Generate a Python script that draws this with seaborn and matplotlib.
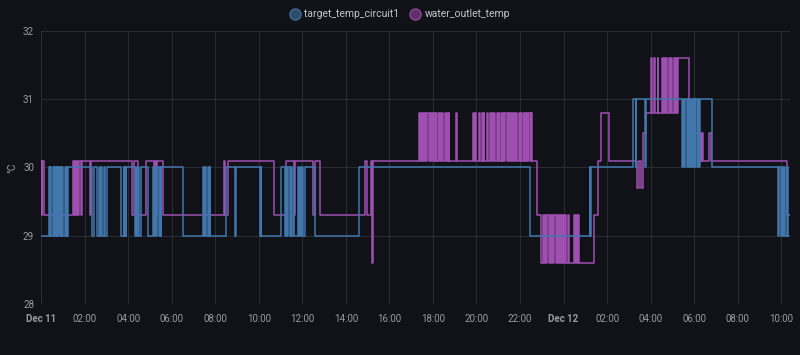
import numpy as np
import pandas as pd
import seaborn as sns
import matplotlib
matplotlib.use("Agg")
import matplotlib.pyplot as plt
from matplotlib.lines import Line2D

# minutes since Dec 11 00:00 -> value (step changes)
target_min = [
    0, 22, 24, 26, 28, 33, 35, 37, 39, 41, 43, 45, 46, 50, 52, 54, 56, 58, 60,
    67, 69, 71, 73, 75, 141, 145, 155, 160, 162, 166, 168, 173, 175, 182,
    221, 228, 230, 232, 234, 235, 258, 261, 264, 267, 270, 276, 296,
    309, 312, 315, 318, 321, 324, 327, 330, 332, 391,
    447, 450, 453, 456, 459, 462, 465, 466, 509, 534, 536, 603, 605, 607,
    661, 673, 676, 679, 682, 685, 688, 690, 695, 696, 708, 711, 714, 717,
    720, 723, 727, 756, 877, 1347, 1512, 1514, 1516,
    1632, 1640, 1641, 1665, 1666, 1767, 1770, 1773, 1776, 1779, 1782, 1785,
    1788, 1791, 1794, 1797, 1799, 1802, 1803, 1809, 1810, 1814, 1815, 1848,
    2032, 2035, 2038, 2041, 2044, 2047, 2050, 2056, 2058, 2062,
]
target_val = [
    29, 30, 29, 30, 29, 30, 29, 30, 29, 30, 29, 30, 29, 30, 29, 30, 29, 30, 29,
    30, 29, 30, 29, 30, 29, 30, 29, 30, 29, 30, 29, 30, 29, 30,
    29, 30, 29, 30, 29, 30, 29, 30, 29, 30, 29, 30, 29,
    30, 29, 30, 29, 30, 29, 30, 29, 30, 29,
    30, 29, 30, 29, 30, 29, 30, 29, 30, 29, 30, 29, 30, 29,
    30, 29, 30, 29, 30, 29, 30, 29, 30, 29, 30, 29, 30, 29,
    30, 29, 30, 29, 30, 29, 30, 29, 30,
    31, 30, 31, 30, 31, 30, 31, 30, 31, 30, 31, 30,
    31, 30, 31, 30, 31, 30, 31, 30, 31, 30, 31, 30,
    29, 30, 29, 30, 29, 30, 29, 30, 29, 29,
]

outlet_min = [
    0, 2, 4, 7, 88, 91, 94, 97, 100, 103, 106, 109, 112, 134, 137,
    251, 255, 267, 289, 311, 313, 317, 319, 337,
    504, 506, 515, 641, 676, 697, 701, 750, 754, 768,
    892, 899, 910, 913, 915,
    1041, 1044, 1047, 1050, 1053, 1056, 1059, 1062, 1065, 1068, 1071, 1074,
    1077, 1080, 1083, 1086, 1088, 1089, 1093, 1096, 1099, 1102, 1106, 1109,
    1112, 1115, 1118, 1121, 1124, 1125, 1143, 1145,
    1191, 1194, 1197, 1199, 1208, 1211, 1214, 1217, 1220, 1222, 1229, 1231,
    1237, 1240, 1243, 1246, 1248, 1250, 1257, 1260, 1263, 1266, 1269, 1271,
    1274, 1277, 1280, 1283, 1286, 1289, 1292, 1295, 1298, 1301, 1304, 1307,
    1310, 1312, 1317, 1320, 1322, 1324, 1328, 1331, 1334, 1337, 1340, 1343,
    1346, 1349, 1351, 1353, 1366,
    1379, 1382, 1385, 1388, 1391, 1393, 1400, 1403, 1406, 1409, 1412, 1415,
    1418, 1421, 1424, 1427, 1430, 1433, 1436, 1439, 1442, 1445, 1448, 1451,
    1454, 1469, 1472, 1475, 1478, 1481, 1483,
    1524, 1535, 1542, 1565, 1642, 1647, 1653, 1658, 1660, 1666,
    1681, 1683, 1690, 1692, 1699, 1701, 1711, 1714, 1717, 1720, 1722, 1724,
    1731, 1734, 1737, 1740, 1743, 1746, 1749, 1752, 1755,
    1786, 1814, 1816, 1819, 1821, 1823, 1841, 1846, 2055, 2064,
]
outlet_val = [
    30.1, 29.3, 30.1, 29.3, 30.1, 29.3, 30.1, 29.3, 30.1, 29.3, 30.1, 29.3, 30.1, 29.3, 30.1,
    29.3, 30.1, 29.3, 30.1, 29.3, 30.1, 29.3, 30.1, 29.3,
    30.1, 29.3, 30.1, 29.3, 30.1, 29.3, 30.1, 29.3, 30.1, 29.3,
    30.1, 29.3, 30.1, 28.6, 30.1,
    30.8, 30.1, 30.8, 30.1, 30.8, 30.1, 30.8, 30.1, 30.8, 30.1, 30.8, 30.1,
    30.8, 30.1, 30.8, 30.1, 30.8, 30.1, 30.8, 30.1, 30.8, 30.1, 30.8, 30.1,
    30.8, 30.1, 30.8, 30.1, 30.8, 30.1, 30.8, 30.1,
    30.8, 30.1, 30.8, 30.1, 30.8, 30.1, 30.8, 30.1, 30.8, 30.1, 30.8, 30.1,
    30.8, 30.1, 30.8, 30.1, 30.8, 30.1, 30.8, 30.1, 30.8, 30.1, 30.8, 30.1,
    30.8, 30.1, 30.8, 30.1, 30.8, 30.1, 30.8, 30.1, 30.8, 30.1, 30.8, 30.1,
    30.8, 30.1, 30.8, 30.1, 30.8, 30.1, 30.8, 30.1, 30.8, 30.1, 30.8, 30.1,
    30.8, 30.1, 30.8, 30.1, 29.3,
    28.6, 29.3, 28.6, 29.3, 28.6, 29.3, 28.6, 29.3, 28.6, 29.3, 28.6, 29.3,
    28.6, 29.3, 28.6, 29.3, 28.6, 29.3, 28.6, 29.3, 28.6, 29.3, 28.6, 29.3,
    28.6, 29.3, 28.6, 29.3, 28.6, 29.3, 28.6,
    29.3, 30.1, 30.8, 30.1, 29.7, 30.1, 29.7, 30.1, 30.5, 30.8,
    31.6, 30.8, 31.6, 30.8, 31.6, 30.8, 31.6, 30.8, 31.6, 30.8, 31.6, 30.8,
    31.6, 30.8, 31.6, 30.8, 31.6, 30.8, 31.6, 30.8, 31.6,
    30.5, 30.1, 30.5, 30.1, 30.5, 30.1, 30.5, 30.1, 29.3, 29.3,
]

tick_min = list(range(0, 2041, 120))
tick_labels = ["Dec 11", "02:00", "04:00", "06:00", "08:00", "10:00", "12:00",
               "14:00", "16:00", "18:00", "20:00", "22:00", "Dec 12", "02:00",
               "04:00", "06:00", "08:00", "10:00"]
y_ticks = [28, 29, 30, 31, 32]

BG = "#111217"
BLUE = "#4177ad"
PURPLE = "#9e4fb0"
GRID = "#2a2b30"
TXT = "#9a9aa2"

sns.set_theme(style="dark")
plt.rcParams["font.family"] = ["Roboto", "DejaVu Sans"]

df_t = pd.DataFrame({"minute": target_min, "value": target_val})
df_o = pd.DataFrame({"minute": outlet_min, "value": outlet_val})

fig = plt.figure(figsize=(8, 3.55), dpi=100, facecolor=BG)
ax = fig.add_axes([0.05125, 0.1437, 0.93625, 0.769])
ax.set_facecolor(BG)

sns.lineplot(data=df_o, x="minute", y="value", ax=ax, color=PURPLE,
             estimator=None, drawstyle="steps-post", linewidth=1.1, zorder=3)
sns.lineplot(data=df_t, x="minute", y="value", ax=ax, color=BLUE,
             estimator=None, drawstyle="steps-post", linewidth=1.1, zorder=4)

ax.set_xlim(0, 2064)
ax.set_ylim(28, 32)
ax.set_xticks(tick_min)
ax.set_xticklabels(tick_labels)
ax.set_yticks(y_ticks)
ax.set_yticklabels([str(v) for v in y_ticks])
for lbl in ax.get_xticklabels():
    if lbl.get_text().startswith("Dec"):
        lbl.set_fontweight("bold")
        lbl.set_color("#b4b4bb")
ax.tick_params(axis="both", colors=TXT, labelsize=7, length=4, width=0.8,
               color=GRID, pad=3)
ax.tick_params(axis="y", length=0, pad=5)
ax.grid(True, color=GRID, linewidth=0.8)
for s in ax.spines.values():
    s.set_visible(False)
ax.set_xlabel("")
ax.set_ylabel("°C", color=TXT, fontsize=7.5, labelpad=4)

handles = [
    Line2D([], [], linestyle="none", marker="o", markersize=8,
           markerfacecolor="#2c4c6c", markeredgecolor="#3d6a96",
           label="target_temp_circuit1"),
    Line2D([], [], linestyle="none", marker="o", markersize=8,
           markerfacecolor="#5e2f6a", markeredgecolor="#8a4698",
           label="water_outlet_temp"),
]
leg = fig.legend(handles=handles, loc="upper center", bbox_to_anchor=(0.5, 1.0),
                 ncol=2, frameon=False, fontsize=7.5, handletextpad=0.4,
                 columnspacing=1.0, handlelength=1.0)
for t in leg.get_texts():
    t.set_color("#c4c4cc")

fig.savefig("out.png", dpi=100, facecolor=BG)
